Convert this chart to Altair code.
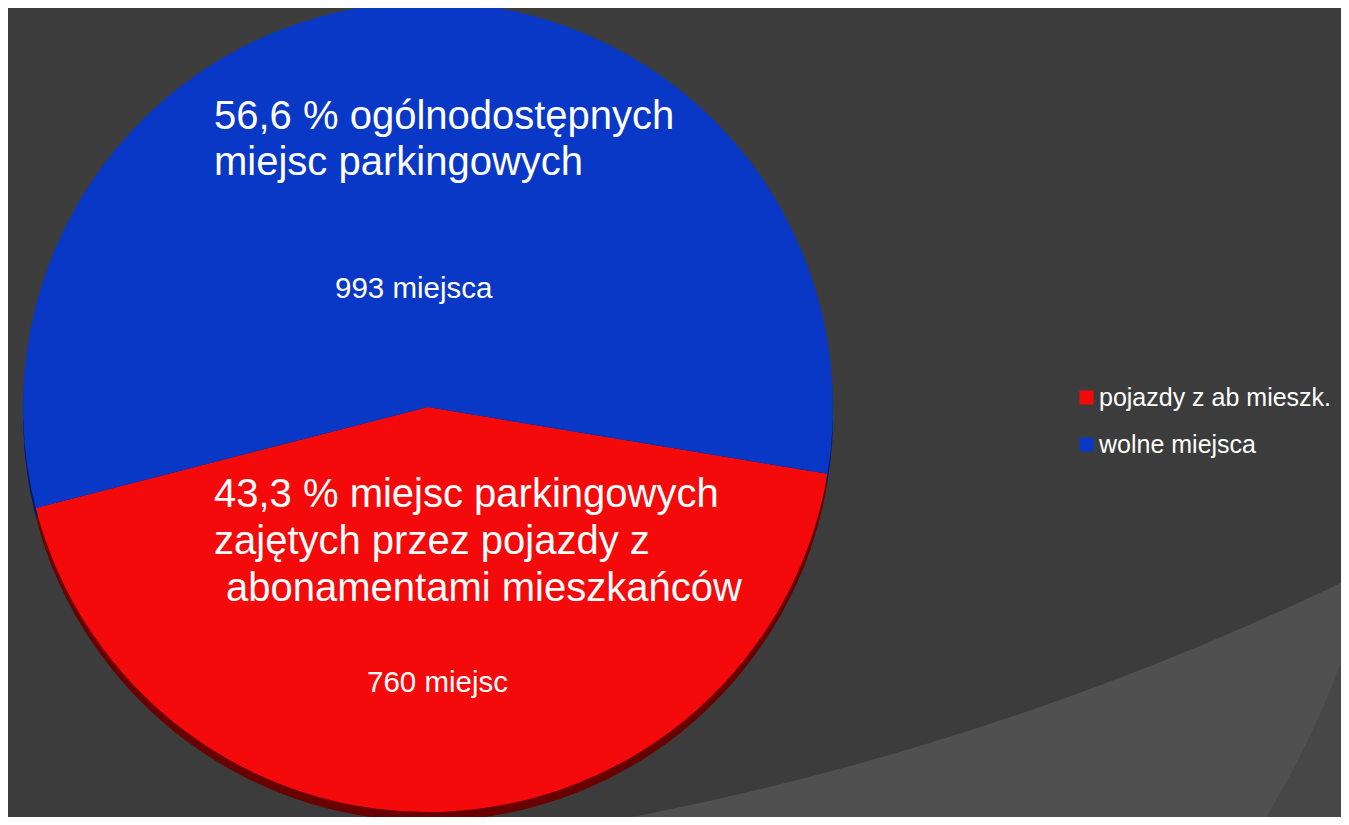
import math
import altair as alt
import pandas as pd

# ---- data ----
categories = ["pojazdy z ab mieszk.", "wolne miejsca"]
values = [760, 993]
slice_order = [0, 1]
colors = ["#f40a0a", "#0a38c6"]
rim_colors = ["#680000", "#031a66"]

big_labels = [
    ["43,3 % miejsc parkingowych", "zajętych przez pojazdy z", "abonamentami mieszkańców"],
    ["56,6 % ogólnodostępnych", "miejsc parkingowych"],
]
small_labels = ["760 miejsc", "993 miejsca"]

FONT = "Liberation Sans, Arial, sans-serif"

df = pd.DataFrame({
    "kategoria": categories,
    "wartosc": values,
    "ord": slice_order,
    "dark": rim_colors,
})

W, H = 1333, 809
CX, CY, R = 420, 399, 405
start = math.radians(99.5)
theta_scale = alt.Scale(range=[start, start + 2 * math.pi])

one = alt.Data(values=[{"a": 1}])

# decorative slide background
bg_light = alt.Chart(one).mark_arc(
    radius=845, theta=0, theta2=2 * math.pi, color="#505050", clip=True
).encode(x=alt.value(539), y=alt.value(365))
bg_dark = alt.Chart(one).mark_arc(
    radius=2943, theta=0, theta2=2 * math.pi, color="#3c3c3c", clip=True
).encode(x=alt.value(63), y=alt.value(-2080))

base = alt.Chart(df)

rim = base.mark_arc(radius=R, clip=True).encode(
    theta=alt.Theta("wartosc:Q", stack=True, scale=theta_scale),
    order=alt.Order("ord:Q"),
    fill=alt.Fill("dark:N", scale=None),
    x=alt.value(CX),
    y=alt.value(CY + 9),
)

pie = base.mark_arc(radius=R, clip=True).encode(
    theta=alt.Theta("wartosc:Q", stack=True, scale=theta_scale),
    order=alt.Order("ord:Q"),
    color=alt.Color(
        "kategoria:N",
        scale=alt.Scale(domain=categories, range=colors),
        legend=alt.Legend(
            orient="none", legendX=1066, legendY=377, title=None, padding=0,
            symbolType="square", symbolSize=196, symbolStrokeWidth=0,
            labelFontSize=25, labelColor="#ffffff", labelFont=FONT,
            labelOffset=0, rowPadding=21, labelLimit=400,
        ),
    ),
    x=alt.value(CX),
    y=alt.value(CY),
)


def txt(lines, x, y, size, lh=None):
    kw = dict(text=lines, align="left", baseline="alphabetic", fontSize=size,
              font=FONT, color="#ffffff")
    if lh:
        kw["lineHeight"] = lh
    return alt.Chart(one).mark_text(**kw).encode(x=alt.value(x), y=alt.value(y))


t_blue = txt(big_labels[1], 206, 121, 40, 46)
t_red = txt(big_labels[0][:2], 206, 499, 40, 47)
t_red3 = txt(big_labels[0][2], 218, 593, 40)
t_blue_small = txt(small_labels[1], 327, 290, 29.5)
t_red_small = txt(small_labels[0], 359, 684, 29.5)

chart = alt.layer(
    bg_light, bg_dark, rim, pie, t_blue, t_red, t_red3, t_blue_small, t_red_small
).properties(
    width=W, height=H, background="#474747", padding=0,
    autosize=alt.AutoSizeParams(type="none"),
).configure_view(strokeWidth=0)

chart.save("out.html", embed_options={"renderer": "svg", "actions": False})
